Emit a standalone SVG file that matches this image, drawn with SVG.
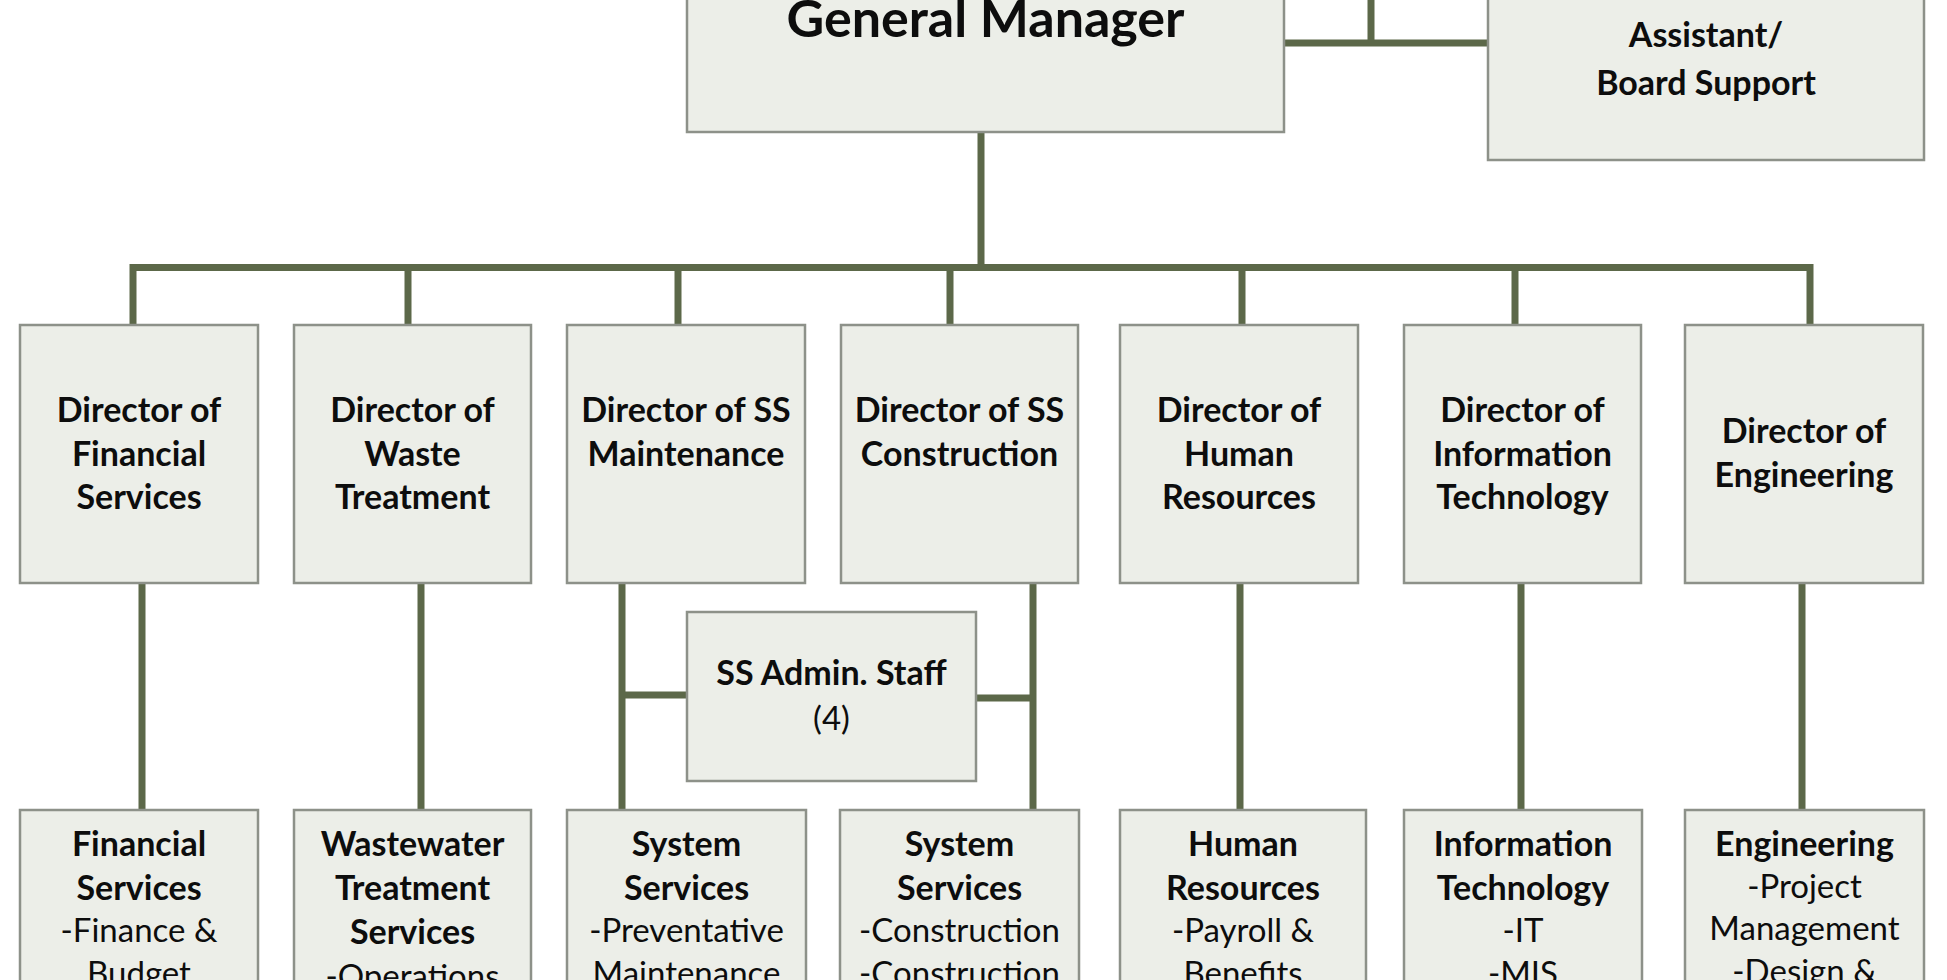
<svg xmlns="http://www.w3.org/2000/svg" width="1947" height="980" viewBox="0 0 1947 980">
<style>
.box{fill:#eceee8;stroke:#8d9189;stroke-width:2.5}
.conn{fill:none;stroke:#5c6849;stroke-width:7}
text{font-family:Lato,"Open Sans",sans-serif;fill:#0d0d0d;text-anchor:middle}
.b{font-weight:700;font-size:34px}
.r{font-weight:400;font-size:33px}
.gm{font-weight:700;font-size:52px}
</style>
<rect width="1947" height="980" fill="#ffffff"/>
<g id="connectors">
<path class="conn" d="M981 132V267.5"/>
<path class="conn" d="M133 325V267.5H1810V325"/>
<path class="conn" d="M408 267.5V325M678 267.5V325M950 267.5V325M1242 267.5V325M1515 267.5V325"/>
<path class="conn" d="M1284 43H1488M1371 -10V43"/>
<path class="conn" d="M142 583V810M421 583V810M622 583V810M1033 583V810M1240 583V810M1521 583V810M1802 583V810"/>
<path class="conn" d="M622 695H687M976 698H1033"/>
</g>
<g id="gm">
<rect class="box" x="687" y="-10" width="597" height="142"/>
<text class="gm" x="985.5" y="37">General Manager</text>
</g>
<g id="assistant">
<rect class="box" x="1488" y="-10" width="436" height="170"/>
<text class="b" x="1706" y="47">Assistant/</text>
<text class="b" x="1706" y="95">Board Support</text>
</g>
<g id="dir-fin">
<rect class="box" x="20" y="325" width="238" height="258"/>
<text class="b" x="139" y="422">Director of</text>
<text class="b" x="139" y="466">Financial</text>
<text class="b" x="139" y="509">Services</text>
</g>
<g id="dir-waste">
<rect class="box" x="294" y="325" width="237" height="258"/>
<text class="b" x="412.5" y="422">Director of</text>
<text class="b" x="412.5" y="466">Waste</text>
<text class="b" x="412.5" y="509">Treatment</text>
</g>
<g id="dir-ssm">
<rect class="box" x="567" y="325" width="238" height="258"/>
<text class="b" x="686" y="422">Director of SS</text>
<text class="b" x="686" y="466">Maintenance</text>
</g>
<g id="dir-ssc">
<rect class="box" x="841" y="325" width="237" height="258"/>
<text class="b" x="959.5" y="422">Director of SS</text>
<text class="b" x="959.5" y="466">Construction</text>
</g>
<g id="dir-hr">
<rect class="box" x="1120" y="325" width="238" height="258"/>
<text class="b" x="1239" y="422">Director of</text>
<text class="b" x="1239" y="466">Human</text>
<text class="b" x="1239" y="509">Resources</text>
</g>
<g id="dir-it">
<rect class="box" x="1404" y="325" width="237" height="258"/>
<text class="b" x="1522.5" y="422">Director of</text>
<text class="b" x="1522.5" y="466">Information</text>
<text class="b" x="1522.5" y="509">Technology</text>
</g>
<g id="dir-eng">
<rect class="box" x="1685" y="325" width="238" height="258"/>
<text class="b" x="1804" y="443">Director of</text>
<text class="b" x="1804" y="487">Engineering</text>
</g>
<g id="ss-admin">
<rect class="box" x="687" y="612" width="289" height="169"/>
<text class="b" x="831.5" y="685">SS Admin. Staff</text>
<text class="r" x="831.5" y="730">(4)</text>
</g>
<g id="fin-services">
<rect class="box" x="20" y="810" width="238" height="200"/>
<text class="b" x="139" y="856">Financial</text>
<text class="b" x="139" y="900">Services</text>
<text class="r" x="139" y="942">-Finance &amp;</text>
<text class="r" x="139" y="985">Budget</text>
</g>
<g id="ww-services">
<rect class="box" x="294" y="810" width="237" height="200"/>
<text class="b" x="412.5" y="856">Wastewater</text>
<text class="b" x="412.5" y="900">Treatment</text>
<text class="b" x="412.5" y="944">Services</text>
<text class="r" x="412.5" y="988">-Operations</text>
</g>
<g id="sys-maint">
<rect class="box" x="567" y="810" width="239" height="200"/>
<text class="b" x="686.5" y="856">System</text>
<text class="b" x="686.5" y="900">Services</text>
<text class="r" x="686.5" y="942">-Preventative</text>
<text class="r" x="686.5" y="985">Maintenance</text>
</g>
<g id="sys-constr">
<rect class="box" x="840" y="810" width="239" height="200"/>
<text class="b" x="959.5" y="856">System</text>
<text class="b" x="959.5" y="900">Services</text>
<text class="r" x="959.5" y="942">-Construction</text>
<text class="r" x="959.5" y="985">-Construction</text>
</g>
<g id="hr">
<rect class="box" x="1120" y="810" width="246" height="200"/>
<text class="b" x="1243" y="856">Human</text>
<text class="b" x="1243" y="900">Resources</text>
<text class="r" x="1243" y="942">-Payroll &amp;</text>
<text class="r" x="1243" y="985">Benefits</text>
</g>
<g id="it">
<rect class="box" x="1404" y="810" width="238" height="200"/>
<text class="b" x="1523" y="856">Information</text>
<text class="b" x="1523" y="900">Technology</text>
<text class="r" x="1523" y="942">-IT</text>
<text class="r" x="1523" y="985">-MIS</text>
</g>
<g id="eng">
<rect class="box" x="1685" y="810" width="239" height="200"/>
<text class="b" x="1804.5" y="856">Engineering</text>
<text class="r" x="1804.5" y="898">-Project</text>
<text class="r" x="1804.5" y="940">Management</text>
<text class="r" x="1804.5" y="983">-Design &amp;</text>
</g>
</svg>
